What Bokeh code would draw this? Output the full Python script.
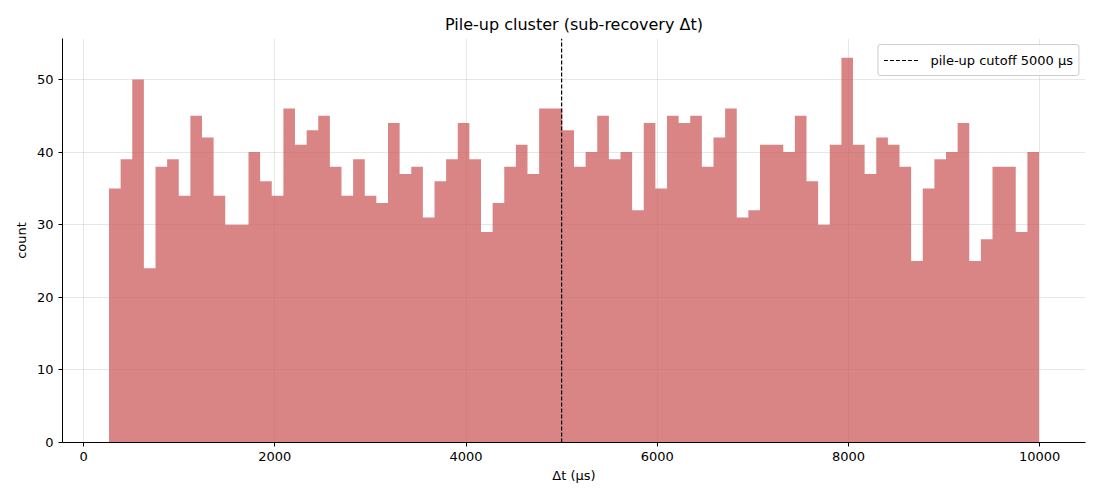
import numpy as np
from bokeh.plotting import figure
from bokeh.models import Range1d, Legend, LegendItem, FixedTicker
from bokeh.embed import file_html
from bokeh.resources import INLINE

# ---- data ----
bin_lo = 266.0
bin_hi = 9993.0
counts = [35, 39, 50, 24, 38, 39, 34, 45, 42, 34,
          30, 30, 40, 36, 34, 46, 41, 43, 45, 38,
          34, 39, 34, 33, 44, 37, 38, 31, 36, 39,
          44, 39, 29, 33, 38, 41, 37, 46, 46, 43,
          38, 40, 45, 39, 40, 32, 44, 35, 45, 44,
          45, 38, 42, 46, 31, 32, 41, 41, 40, 45,
          36, 30, 41, 53, 41, 37, 42, 41, 38, 25,
          35, 39, 40, 44, 25, 28, 38, 38, 29, 40]
cutoff = 5000
x_ticks = [0, 2000, 4000, 6000, 8000, 10000]
y_ticks = [0, 10, 20, 30, 40, 50]
title = "Pile-up cluster (sub-recovery Δt)"
x_label = "Δt (μs)"
y_label = "count"
legend_label = "pile-up cutoff 5000 μs"

edges = np.linspace(bin_lo, bin_hi, len(counts) + 1)
span = bin_hi - bin_lo
ymax = max(counts) * 1.05

# step outline of the histogram (one polygon -> no seams between bins)
step_x = [edges[0]]
step_y = [0]
for i, c in enumerate(counts):
    step_x += [edges[i], edges[i + 1]]
    step_y += [c, c]
step_x.append(edges[-1])
step_y.append(0)

FONT = "DejaVu Sans"

p = figure(width=1100, height=500, output_backend="svg", toolbar_location=None,
           x_range=Range1d(bin_lo - 0.05 * span, bin_hi + 0.05 * span),
           y_range=Range1d(0, ymax),
           min_border_left=62, min_border_right=15, min_border_top=38, min_border_bottom=58)
p.outline_line_color = None
p.background_fill_color = "white"
p.border_fill_color = "white"

p.title.text = title
p.title.align = "center"
p.title.text_font = FONT
p.title.text_font_size = "16px"
p.title.text_font_style = "normal"
p.title.text_color = "black"

p.patch(x=step_x, y=step_y, fill_color="indianred", fill_alpha=0.75, line_color=None)

vline = p.line(x=[cutoff, cutoff], y=[0, ymax], line_color="black",
               line_width=1.2, line_dash="4 2")

for ax in (p.xaxis, p.yaxis):
    ax.major_label_text_font = FONT
    ax.major_label_text_font_size = "13px"
    ax.major_label_text_color = "black"
    ax.axis_label_text_font = FONT
    ax.axis_label_text_font_size = "13px"
    ax.axis_label_text_font_style = "normal"
    ax.axis_label_text_color = "black"
    ax.axis_line_color = "black"
    ax.major_tick_line_color = "black"
    ax.major_tick_out = 4
    ax.major_tick_in = 0
    ax.minor_tick_line_color = None
p.xaxis.axis_label = x_label
p.yaxis.axis_label = y_label
p.xaxis.ticker = FixedTicker(ticks=x_ticks)
p.yaxis.ticker = FixedTicker(ticks=y_ticks)
p.xaxis.axis_label_standoff = 4
p.yaxis.axis_label_standoff = 5

p.xgrid.ticker = FixedTicker(ticks=x_ticks)
p.ygrid.ticker = FixedTicker(ticks=y_ticks)
for g in (p.xgrid, p.ygrid):
    g.grid_line_color = "#b0b0b0"
    g.grid_line_alpha = 0.3

legend = Legend(items=[LegendItem(label=legend_label, renderers=[vline])],
                location="top_right")
legend.label_text_font = FONT
legend.label_text_font_size = "13px"
legend.label_text_color = "black"
legend.border_line_color = "#cccccc"
legend.border_line_alpha = 1.0
legend.background_fill_alpha = 0.8
legend.margin = 6
legend.padding = 5
legend.glyph_width = 36
legend.label_standoff = 11
if "border_radius" in Legend.properties():
    legend.border_radius = 3
p.add_layout(legend)

open("out.html", "w").write(file_html(p, INLINE))
